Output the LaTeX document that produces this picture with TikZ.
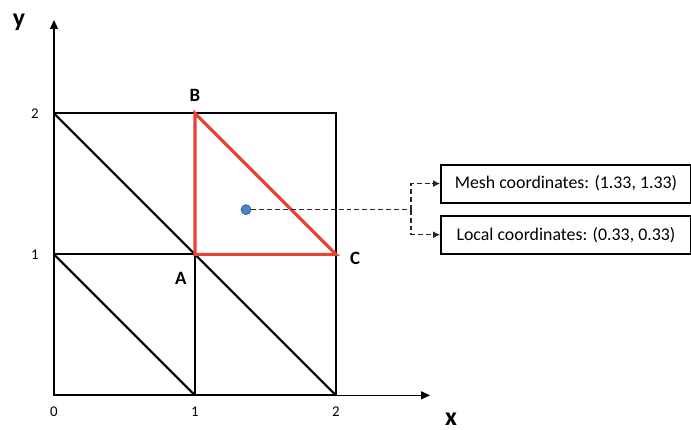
\documentclass[tikz,border=0pt]{standalone}
\usepackage{fontspec}
\setmainfont{Carlito}
\usetikzlibrary{arrows.meta}

\definecolor{elemred}{RGB}{232,66,52}
\definecolor{dotblue}{RGB}{74,134,199}
\definecolor{dotedge}{RGB}{52,98,150}

\tikzset{
    meshline/.style={line width=1pt},
    axisline/.style={line width=0.6pt, -{Triangle[length=4.5pt, width=4pt]}},
    element/.style={draw=elemred, line width=1.6pt},
    vertexlbl/.style={font=\fontsize{9.5}{11}\bfseries\selectfont},
    ticklbl/.style={font=\fontsize{7.5}{9}\selectfont},
    axislbl/.style={font=\fontsize{13}{15}\bfseries\selectfont},
    infobox/.style={draw, line width=1pt, minimum width=4.43cm, minimum height=0.676cm,
        inner sep=0pt, font=\fontsize{9}{11}\selectfont},
    leader/.style={draw=black!85, line width=0.6pt, dash pattern=on 2.5pt off 1.5pt},
    pointdot/.style={circle, fill=dotblue, draw=dotedge, line width=0.4pt,
        minimum size=5pt, inner sep=0pt}
}

\begin{document}
\begin{tikzpicture}[x=2.5cm, y=2.5cm]
    \useasboundingbox (-0.383,-0.242) rectangle (4.518,2.804);

    % Axes
    \draw[axisline] (0,0) -- (2.667,0); % X axis
    \draw[axisline] (0,0) -- (0,2.662); % Y axis
    \node[axislbl] (xlbl) at (2.816,-0.17) {x};
    \node[axislbl] (ylbl) at (-0.248,2.648) {y};

    % Tick labels
    \foreach \v in {0,1,2} {
        \node[ticklbl] (tx\v) at (\v,-0.114) {\v};
    }
    \foreach \v in {1,2} {
        \node[ticklbl] (ty\v) at (-0.135,\v) {\v};
    }

    % Mesh: square, grid lines and diagonals
    \draw[meshline] (0,0) rectangle (2,2);
    \draw[meshline] (1,0) -- (1,2);
    \draw[meshline] (0,1) -- (2,1);
    \draw[meshline] (0,2) -- (2,0);
    \draw[meshline] (0,1) -- (1,0);

    % Highlighted element ABC
    \coordinate (A) at (1,1);
    \coordinate (B) at (1,2);
    \coordinate (C) at (2,1);
    \draw[element] (A) -- (B) -- (C) -- cycle;
    \node[vertexlbl] (lblA) at (0.90,0.826) {A};
    \node[vertexlbl] (lblB) at (1,2.128) {B};
    \node[vertexlbl] (lblC) at (2.135,0.968) {C};

    % Point and its coordinates
    \node[pointdot] (p) at (1.362,1.317) {};
    \node[infobox, anchor=west] (mesh) at (2.738,1.502) {Mesh coordinates: (1.33, 1.33)};
    \node[infobox, anchor=west] (local) at (2.738,1.139) {Local coordinates: (0.33, 0.33)};

    % Leaders
    \coordinate (j) at (2.532,1.317);
    \draw[leader] (p.east) -- (j);
    \draw[leader, -{Latex[length=3.5pt, width=3.5pt]}] (j) |- (mesh.west);
    \draw[leader, -{Latex[length=3.5pt, width=3.5pt]}] (j) |- (local.west);
\end{tikzpicture}
\end{document}
